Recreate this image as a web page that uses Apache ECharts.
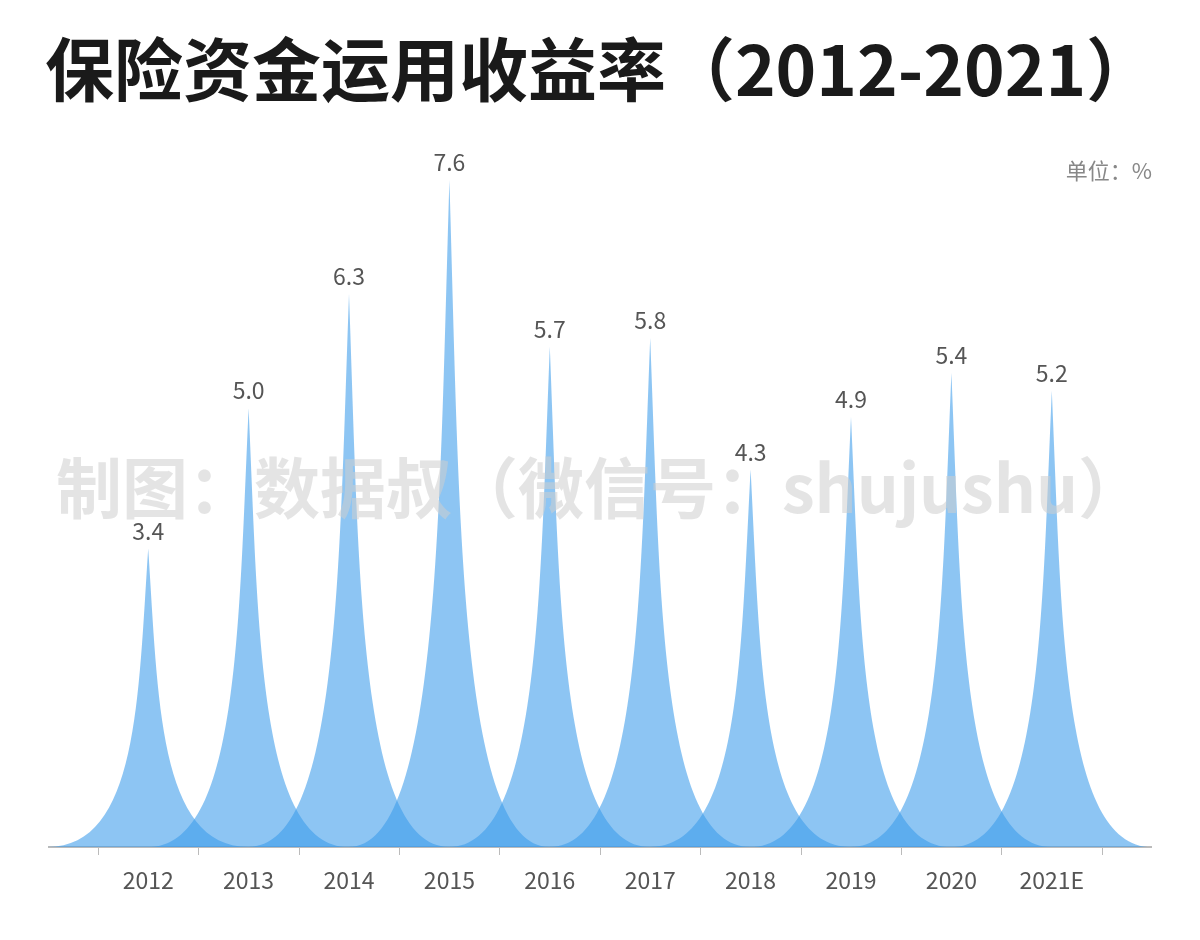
<!DOCTYPE html>
<html>
<head>
<meta charset="utf-8">
<script src="https://cdn.jsdelivr.net/npm/echarts@6/dist/echarts.min.js"></script>
<style>html,body{margin:0;background:#fff}#chart{width:1200px;height:940px}</style>
</head>
<body>
<div id="chart"></div>
<script>
// 年份
const years = ["2012", "2013", "2014", "2015", "2016", "2017", "2018", "2019", "2020", "2021E"];
// 收益率 %
const rates = [3.4, 5.0, 6.3, 7.6, 5.7, 5.8, 4.3, 4.9, 5.4, 5.2];

const chart = echarts.init(document.getElementById("chart"));
const font = "'Noto Sans CJK SC', 'Noto Sans', sans-serif";

chart.setOption({
	backgroundColor: "#fff",
	title: {
		text: "保险资金运用收益率（2012-2021）",
		left: "center",
		top: 30,
		textStyle: { fontSize: 69, fontWeight: "bold", color: "#1a1a1a", fontFamily: font },
	},
	graphic: [
		{
			type: "text", right: 48, top: 160,
			style: { text: "单位：%", fill: "#888", font: "22px " + font },
		},
		{
			type: "line", z: 0,
			shape: { x1: 48, y1: 847, x2: 1152, y2: 847 },
			style: { stroke: "#bbb", lineWidth: 2 },
		},
		{
			type: "text", left: "center", top: 455, z: 100,
			style: {
				text: "制图：数据叔（微信号：shujushu）",
				font: "bold 66px " + font,
				fill: "rgba(205,205,205,0.55)",
			},
		},
	],
	grid: { left: 98, right: 98, top: 180, bottom: 93 },
	xAxis: {
		type: "category",
		data: years,
		axisLine: { lineStyle: { color: "#bbb", width: 2 } },
		axisTick: { show: true, length: 8, lineStyle: { color: "#bbb" } },
		axisLabel: { color: "#555", fontSize: 23, margin: 22, fontFamily: font },
	},
	yAxis: { type: "value", min: 0, max: 7.6, show: false },
	series: [
		{
			type: "pictorialBar",
			data: rates,
			symbol: "path://M0,10 L10,10 C5.5,10 5.5,5 5,0 C4.5,5 4.5,10 0,10 z",
			symbolSize: ["200%", "100%"],
			barCategoryGap: "0%",
			itemStyle: { color: "rgba(59,155,234,0.58)" },
			label: {
				show: true,
				position: "top",
				distance: 6,
				color: "#555",
				fontSize: 23,
				fontFamily: font,
				formatter: (p) => p.value.toFixed(1),
			},
		},
	],
});
</script>
</body>
</html>
